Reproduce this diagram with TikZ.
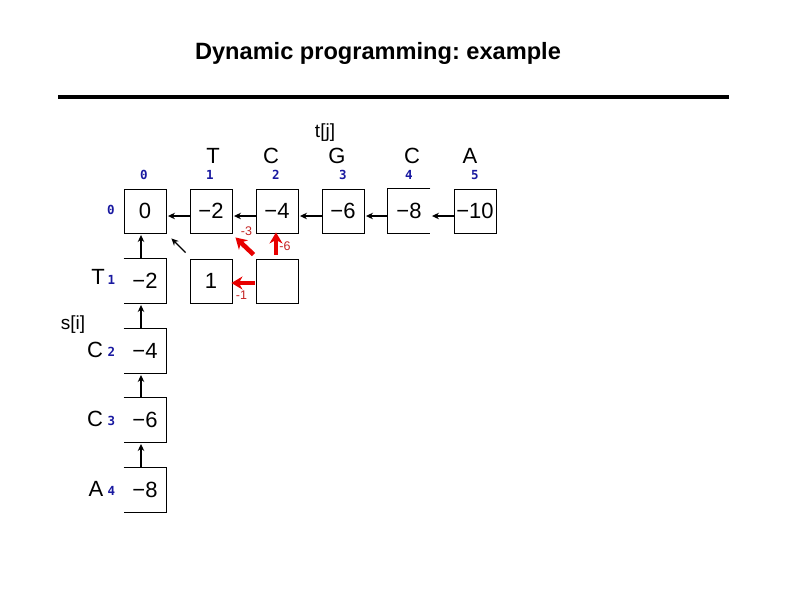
\documentclass[tikz,border=0pt]{standalone}
\usepackage{fontspec}
\setmainfont{Liberation Sans}
\newfontfamily\bluefont{DejaVu Sans Mono}
\usetikzlibrary{arrows.meta}
\frenchspacing
\definecolor{idxblue}{RGB}{25,25,160}
\definecolor{arrred}{RGB}{232,0,0}
\definecolor{lblred}{RGB}{195,35,35}
\tikzset{
  cell/.style={minimum width=42pt,minimum height=44pt,inner sep=0pt,line width=0.9pt,font=\fontsize{22}{24}\selectfont},
  boxed/.style={cell,draw},
  idx/.style={text=idxblue,inner sep=0pt,font=\bluefont\bfseries\fontsize{12.5}{13}\selectfont},
  letter/.style={inner sep=0pt,font=\fontsize{22}{24}\selectfont},
  seqname/.style={inner sep=0pt,font=\fontsize{19}{21}\selectfont},
  blackarr/.style={line width=1.4pt,-{Stealth[length=7pt,width=6.5pt]}},
  redarr/.style={arrred,line width=4.6pt,-{Stealth[length=11pt,width=13pt]}},
  redlbl/.style={text=lblred,inner sep=0pt,font=\fontsize{12.5}{13}\selectfont},
  opencell/.style={line width=0.9pt}
}
\begin{document}
\begin{tikzpicture}[x=1pt,y=-1pt]
\path[use as bounding box] (0,0) rectangle (794,595);
% title and rule
\node[font=\bfseries\fontsize{23.6}{27}\selectfont,inner sep=0pt] (title) at (378,53) {Dynamic programming: example};
\coordinate (ruleL) at (58,97);
\coordinate (ruleR) at (729,97);
\draw[line width=4pt] (ruleL) -- (ruleR);
% labels
\node[seqname] (tj) at (325,133) {t[j]};
\node[seqname] (si) at (73,325) {s[i]};
% column letters and indices
\node[letter] (lT) at (213,156) {T};
\node[letter] (lC1) at (271,156) {C};
\node[letter] (lG) at (337,156) {G};
\node[letter] (lC2) at (412,156) {C};
\node[letter] (lA) at (470,156) {A};
\node[idx] (c0) at (144,175) {0};
\node[idx] (c1) at (210,175) {1};
\node[idx] (c2) at (276,175) {2};
\node[idx] (c3) at (343,175) {3};
\node[idx] (c4) at (409,175) {4};
\node[idx] (c5) at (475,175) {5};
% row letters and indices
\node[idx] (r0) at (111,210) {0};
\node[letter] (rT) at (98,277) {T};
\node[idx] (r1) at (111.5,280) {1};
\node[letter] (rC1) at (95,350) {C};
\node[idx] (r2) at (111.5,352) {2};
\node[letter] (rC2) at (95,419) {C};
\node[idx] (r3) at (111.5,421) {3};
\node[letter] (rA) at (96,489) {A};
\node[idx] (r4) at (111.5,491) {4};
% row 0 cells
\node[boxed] (b00) at (145,211) {0};
\node[boxed] (b01) at (211,211) {−2};
\node[boxed] (b02) at (277,211) {−4};
\node[boxed] (b03) at (343,211) {−6};
\node[cell] (b04) at (409,211) {−8};
\node[boxed] (b05) at (475,211) {−10};
\draw[opencell] (b04.north east) -- (b04.north west) -- (b04.south west) -- (b04.south east);
% row 1 cells
\node[cell] (b10) at (145,281) {−2};
\node[boxed] (b11) at (211,281) {1};
\node[boxed] (b12) at (277,281) {};
% column 0 cells
\node[cell] (b20) at (145,351) {−4};
\node[cell] (b30) at (145,420) {−6};
\node[cell] (b40) at (145,490) {−8};
\foreach \b in {b10,b20,b30,b40}{
  \draw[opencell] (\b.north west) -- (\b.north east) -- (\b.south east) -- (\b.south west);
}
% horizontal black arrows
\foreach \a/\b in {b01/b00,b02/b01,b03/b02,b04/b03,b05/b04}{
  \draw[blackarr] ([yshift=-5pt]\a.west) -- ([yshift=-5pt,xshift=1.5pt]\b.east);
}
% vertical black arrows
\foreach \a/\b in {b10/b00,b20/b10,b30/b20,b40/b30}{
  \draw[blackarr] ([xshift=-4pt]\a.north) -- ([xshift=-4pt,yshift=-1.5pt]\b.south);
}
% diagonal black arrow
\draw[blackarr] ([xshift=-4pt,yshift=6pt]b11.north west) -- ([xshift=5pt,yshift=-5pt]b00.south east);
% red arrows
\draw[redarr] ([xshift=-2pt,yshift=4pt]b12.north west) -- ([xshift=3pt,yshift=-4pt]b01.south east);
\draw[redarr] ([xshift=-1pt,yshift=4pt]b12.north) -- ([xshift=-1pt,yshift=1pt]b02.south);
\draw[redarr] ([xshift=-1pt,yshift=-2pt]b12.west) -- ([xshift=-1pt,yshift=-2pt]b11.east);
\node[redlbl] (l3) at (246.5,231) {-3};
\node[redlbl] (l6) at (285,246) {-6};
\node[redlbl] (l1) at (241.5,295) {-1};
\end{tikzpicture}
\end{document}
